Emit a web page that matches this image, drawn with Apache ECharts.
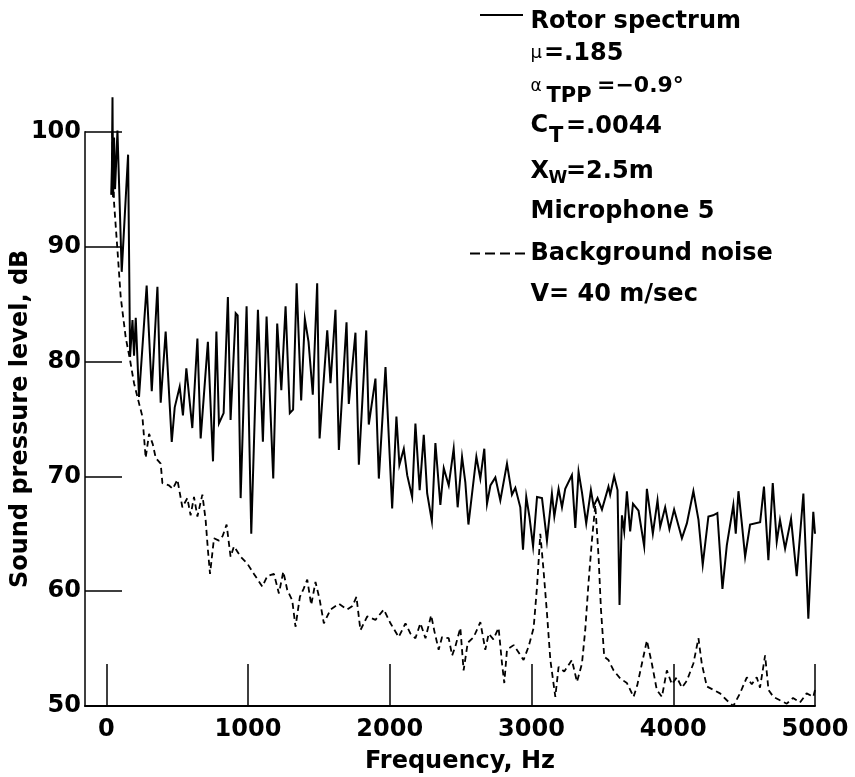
<!DOCTYPE html>
<html>
<head>
<meta charset="utf-8">
<title>Rotor spectrum vs background noise</title>
<script src="https://cdn.jsdelivr.net/npm/echarts@6/dist/echarts.min.js"></script>
<style>
  html, body { margin: 0; padding: 0; background: #fff; }
  #chart { width: 855px; height: 777px; }
</style>
</head>
<body>
<div id="chart"></div>
<script>
// Narrow-band rotor spectrum (solid) and tunnel background noise (dashed)
const rotorFreq = [35, 40, 44, 48, 55, 62, 79, 109, 154, 168,
  185, 196, 208, 231, 285, 321, 361, 384, 419, 462,
  483, 518, 541, 565, 607, 643, 666, 717, 753, 777,
  795, 828, 858, 877, 913, 927, 948, 990, 1023, 1070,
  1105, 1131, 1178, 1206, 1235, 1265, 1295, 1318, 1343, 1375,
  1401, 1427, 1457, 1488, 1505, 1519, 1559, 1582, 1617, 1641,
  1653, 1695, 1711, 1758, 1782, 1834, 1852, 1899, 1923, 1970,
  2017, 2047, 2068, 2099, 2123, 2158, 2181, 2211, 2240, 2264,
  2297, 2322, 2357, 2381, 2416, 2451, 2479, 2510, 2533, 2555,
  2611, 2639, 2667, 2686, 2710, 2745, 2780, 2827, 2862, 2886,
  2921, 2940, 2963, 2985, 3011, 3039, 3074, 3109, 3144, 3161,
  3191, 3215, 3238, 3285, 3309, 3332, 3356, 3386, 3419, 3438,
  3466, 3497, 3543, 3555, 3583, 3607, 3621, 3638, 3654, 3673,
  3696, 3716, 3755, 3795, 3814, 3856, 3889, 3908, 3943, 3973,
  4006, 4061, 4096, 4142, 4178, 4208, 4248, 4281, 4311, 4347,
  4378, 4424, 4441, 4460, 4483, 4507, 4542, 4613, 4640, 4671,
  4702, 4730, 4753, 4789, 4831, 4871, 4918, 4953, 4988, 5000];

const rotorLevel = [94.5, 97, 103, 94.3, 99.5, 95, 100.1, 87.8, 98.0, 80.4,
  83.6, 80.5, 83.8, 76.9, 86.6, 77.4, 86.5, 76.4, 82.6, 73.0,
  76.0, 77.8, 75.3, 79.4, 74.2, 82.0, 73.3, 81.7, 71.3, 82.6,
  74.6, 75.5, 85.6, 74.9, 84.2, 84.0, 68.1, 84.8, 65.0, 84.5,
  73.0, 83.9, 69.8, 83.3, 77.5, 84.8, 75.5, 75.8, 86.8, 76.6,
  83.7, 81.7, 77.1, 86.8, 73.3, 73.3, 82.7, 78.1, 84.5, 72.3,
  72.3, 83.4, 76.3, 82.5, 71.0, 82.7, 74.5, 78.5, 69.8, 79.5,
  67.2, 75.2, 71.0, 72.4, 70.1, 68.2, 74.6, 68.8, 73.6, 68.5,
  66.1, 72.9, 67.5, 70.7, 69.2, 72.4, 67.3, 71.7, 69.5, 65.8,
  71.7, 69.8, 72.4, 67.6, 69.2, 69.9, 67.9, 71.1, 68.4, 69.0,
  67.3, 63.6, 68.2, 66.5, 63.9, 68.2, 68.1, 64.4, 68.5, 66.5,
  68.9, 67.3, 68.9, 70.1, 65.5, 70.4, 68.6, 65.9, 68.8, 67.4,
  68.1, 67.1, 69.1, 68.4, 70.0, 68.8, 58.8, 66.6, 65.2, 68.7,
  65.2, 67.6, 67.0, 63.9, 68.9, 65.0, 67.9, 65.6, 67.3, 65.4,
  67.1, 64.6, 65.9, 68.7, 66.2, 62.3, 66.5, 66.6, 66.8, 60.2,
  64.0, 67.5, 65.0, 68.7, 66.0, 63.0, 65.8, 66.0, 69.1, 62.7,
  69.4, 64.3, 66.2, 63.7, 66.3, 61.3, 68.5, 57.6, 66.9, 65.0];

const noiseFreq = [42, 55, 79, 102, 137, 168, 196, 220, 255, 278,
  302, 328, 349, 384, 396, 443, 469, 502, 537, 572,
  595, 619, 643, 678, 701, 717, 732, 760, 795, 821,
  849, 877, 901, 948, 995, 1042, 1101, 1136, 1183, 1218,
  1249, 1277, 1312, 1335, 1366, 1392, 1418, 1446, 1476, 1505,
  1535, 1582, 1641, 1700, 1737, 1765, 1793, 1841, 1899, 1958,
  2005, 2063, 2111, 2146, 2181, 2216, 2252, 2292, 2315, 2345,
  2369, 2416, 2440, 2463, 2498, 2521, 2550, 2592, 2639, 2674,
  2698, 2731, 2768, 2792, 2808, 2827, 2874, 2907, 2944, 2980,
  3015, 3039, 3062, 3085, 3109, 3133, 3168, 3191, 3231, 3285,
  3321, 3356, 3379, 3402, 3426, 3450, 3473, 3490, 3513, 3543,
  3579, 3626, 3673, 3720, 3746, 3779, 3814, 3849, 3884, 3920,
  3955, 3990, 4025, 4061, 4096, 4142, 4178, 4201, 4237, 4284,
  4330, 4378, 4424, 4471, 4519, 4554, 4589, 4612, 4648, 4672,
  4706, 4753, 4801, 4845, 4894, 4941, 4988, 5000];

const noiseLevel = [100, 93.8, 89.7, 85.6, 82.1, 80.1, 78.1, 76.9, 75.2, 71.6,
  73.7, 72.8, 71.6, 71.1, 69.4, 69.2, 68.9, 69.7, 67.3, 68.1,
  66.6, 68.2, 66.5, 68.4, 66.2, 63.6, 61.5, 64.6, 64.4, 64.8,
  65.8, 63.0, 63.9, 63.0, 62.4, 61.5, 60.4, 61.3, 61.5, 59.8,
  61.7, 60.1, 59.2, 56.9, 59.5, 60.2, 61.0, 58.8, 60.8, 59.3,
  57.2, 58.4, 58.9, 58.4, 58.7, 59.5, 56.6, 57.8, 57.5, 58.4,
  57.2, 56.0, 57.2, 56.3, 55.9, 57.2, 55.9, 57.9, 56.5, 54.9,
  56.0, 55.9, 54.4, 55.2, 56.8, 53.1, 55.5, 56.0, 57.3, 54.9,
  56.3, 55.8, 56.8, 53.7, 52.0, 54.9, 55.3, 54.7, 54.0, 55.2,
  56.8, 60.4, 65.0, 61.8, 58.1, 54.0, 50.8, 53.4, 53.0, 54.0,
  52.1, 53.7, 56.6, 60.7, 64.4, 67.5, 63.0, 58.4, 54.3, 54.0,
  53.1, 52.4, 52.0, 50.8, 51.8, 53.7, 55.7, 53.7, 51.4, 50.8,
  53.1, 51.9, 52.5, 51.6, 52.2, 53.7, 55.9, 53.7, 51.7, 51.4,
  51.1, 50.5, 50.0, 51.1, 52.5, 51.9, 52.5, 51.6, 54.4, 51.4,
  50.8, 50.5, 50.2, 50.7, 50.3, 51.1, 50.8, 51.4];

const freqTicks = [0, 1000, 2000, 3000, 4000, 5000];
const levelTicks = [50, 60, 70, 80, 90, 100];

const FONT = '"DejaVu Sans", "Liberation Sans", sans-serif';
const INK = '#000';
const SIZE = 24;

const pairs = (xs, ys) => xs.map((x, i) => [x, ys[i]]);

const chart = echarts.init(document.getElementById('chart'), null, { renderer: 'canvas' });

// Parameter block in the upper right, with hand-placed sub/superscripts
const txt = (x, y, text, size, weight) => ({
  type: 'text', x: x, y: y, silent: true,
  style: {
    text: text, fill: INK, align: 'left', verticalAlign: 'middle',
    font: (weight || 'bold') + ' ' + size + 'px ' + FONT
  }
});

const legendGraphics = [
  { type: 'line', silent: true, shape: { x1: 480, y1: 15, x2: 523, y2: 15 },
    style: { stroke: INK, lineWidth: 2 } },
  txt(530.5, 21.5, 'Rotor spectrum', SIZE),
  txt(530.5, 53, 'μ', 18, 'normal'),
  txt(544, 53.5, '=.185', SIZE),
  txt(530.5, 87, 'α', 17, 'normal'),
  txt(546.5, 96.7, 'TPP', 21),
  txt(597, 86.7, '=−0.9°', 22),
  txt(530.5, 126, 'C', SIZE),
  txt(549, 136.7, 'T', 21),
  txt(566, 126.5, '=.0044', SIZE),
  txt(530.5, 171.7, 'X', SIZE),
  txt(548.5, 178.5, 'W', 17),
  txt(566, 171.7, '=2.5m', SIZE),
  txt(530.5, 211.7, 'Microphone 5', SIZE),
  { type: 'line', silent: true, shape: { x1: 470, y1: 253.5, x2: 525, y2: 253.5 },
    style: { stroke: INK, lineWidth: 2, lineDash: [10, 5] } },
  txt(530.5, 253.5, 'Background noise', SIZE),
  txt(530.5, 295, 'V= 40 m/sec', SIZE)
];

const plainNumber = v => String(v);

const option = {
  backgroundColor: '#fff',
  animation: false,
  grid: { left: 85, right: 40, top: 131.7, bottom: 71, outerBoundsMode: 'none' },
  xAxis: {
    type: 'value', min: -150, max: 5000,
    name: 'Frequency, Hz', nameLocation: 'middle', nameGap: 44,
    nameTextStyle: { fontFamily: FONT, fontWeight: 'bold', fontSize: SIZE, color: INK, padding: [0, 0, 0, 20] },
    axisLine: { show: true, onZero: false, lineStyle: { color: INK, width: 2 } },
    axisTick: { show: true, inside: true, length: 42, customValues: freqTicks, lineStyle: { color: INK, width: 1.5 } },
    axisLabel: { customValues: freqTicks, formatter: plainNumber, margin: 12, fontFamily: FONT, fontWeight: 'bold', fontSize: SIZE, color: INK },
    splitLine: { show: false }
  },
  yAxis: {
    type: 'value', min: 50, max: 100, interval: 10,
    name: 'Sound pressure level, dB', nameLocation: 'middle', nameGap: 52, nameMoveOverlap: false,
    nameTextStyle: { fontFamily: FONT, fontWeight: 'bold', fontSize: SIZE, color: INK },
    axisLine: { show: true, onZero: false, lineStyle: { color: INK, width: 1.5 } },
    axisTick: { show: true, inside: true, length: 37, customValues: levelTicks.slice(1), lineStyle: { color: INK, width: 1.5 } },
    axisLabel: { customValues: levelTicks, formatter: plainNumber, margin: 4, fontFamily: FONT, fontWeight: 'bold', fontSize: SIZE, color: INK },
    splitLine: { show: false }
  },
  series: [
    {
      name: 'Rotor spectrum', type: 'line', data: pairs(rotorFreq, rotorLevel),
      showSymbol: false, symbol: 'none', clip: false, z: 3,
      lineStyle: { color: INK, width: 2, join: 'miter' }
    },
    {
      name: 'Background noise', type: 'line', data: pairs(noiseFreq, noiseLevel),
      showSymbol: false, symbol: 'none', clip: false, z: 2,
      lineStyle: { color: INK, width: 1.8, type: [6, 4] }
    }
  ],
  graphic: legendGraphics
};

chart.setOption(option);
</script>
</body>
</html>
